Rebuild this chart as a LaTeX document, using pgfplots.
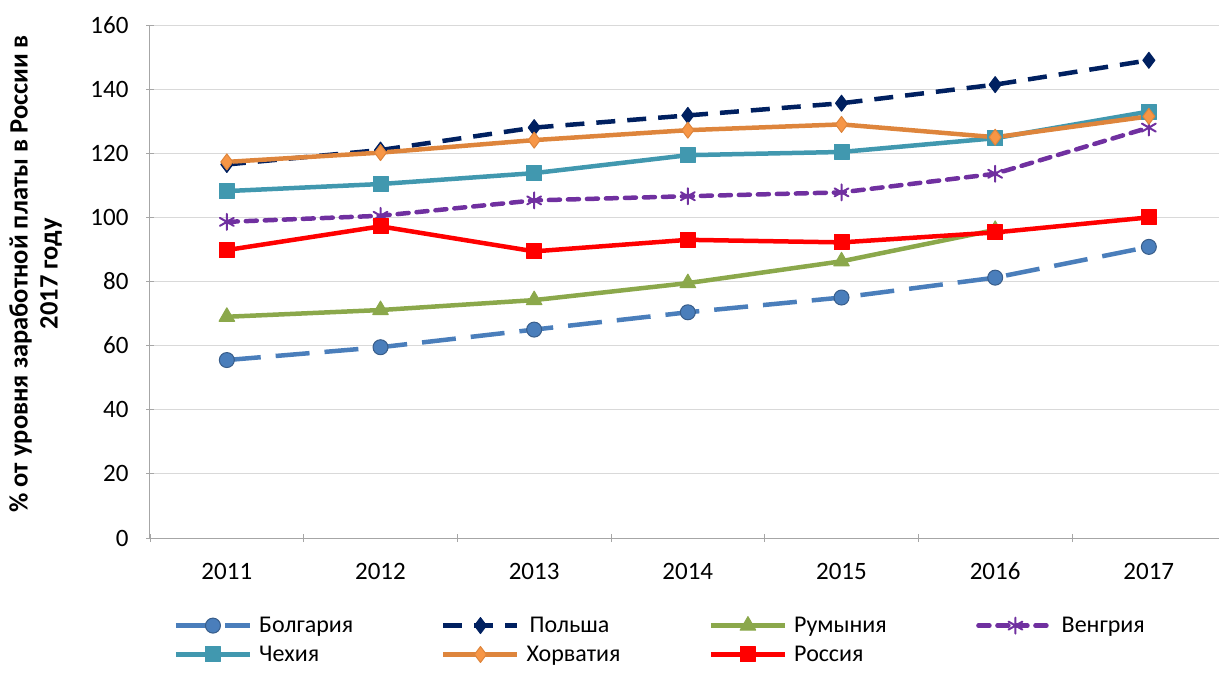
\documentclass[border=0pt]{standalone}
\usepackage{fontspec}
\setmainfont{Carlito}
\usepackage{pgfplots}
\pgfplotsset{compat=1.18}
\definecolor{cBul}{RGB}{74,126,187}
\definecolor{cBulD}{RGB}{56,93,138}
\definecolor{cPol}{RGB}{0,32,96}
\definecolor{cRom}{RGB}{139,168,75}
\definecolor{cHun}{RGB}{112,48,160}
\definecolor{cCze}{RGB}{65,152,175}
\definecolor{cCro}{RGB}{222,133,60}
\definecolor{cCroF}{RGB}{247,150,70}
\definecolor{cRus}{RGB}{255,0,0}
\begin{document}
\begin{tikzpicture}
\useasboundingbox (-150pt,-135pt) rectangle (1069pt,538pt);
\begin{axis}[
  scale only axis,
  width=1069pt, height=513pt,
  xmin=2010.5, xmax=2017.456,
  ymin=0, ymax=160,
  ytick={0,20,...,160},
  xtick={2011,...,2017},
  minor xtick={2010.5,2011.5,...,2017.5},
  major x tick style={draw=none},
  minor tick length=8pt,
  major tick length=8pt,
  tick align=outside,
  tick style={gray!70, line width=0.8pt},
  axis x line=bottom, axis y line=left,
  axis line style={gray!70, line width=1pt, -},
  ymajorgrids, grid style={gray!30, line width=1pt},
  /pgf/number format/assume math mode=true,
  /pgf/number format/1000 sep={},
  tick label style={font=\fontsize{25}{30}\selectfont},
  yticklabel style={xshift=-14pt},
  xticklabel style={anchor=base, yshift=-37pt},
  ylabel={\bfseries\begin{tabular}{c}\% от уровня заработной платы в России в\\2017 году\end{tabular}},
  ylabel style={font=\fontsize{26.5}{30}\selectfont, at={(axis description cs:-0.1060,0.515)}, anchor=center},
  legend columns=4,
  legend style={at={(axis description cs:0.022,-0.150)}, anchor=north west, draw=none, fill=none,
    inner sep=0pt, row sep=8pt, font=\fontsize{24}{28}\selectfont,
    /tikz/every odd column/.append style={column sep=5pt}},
  legend cell align=left,
  legend image code/.code={\draw[mark repeat=2,mark phase=2] plot coordinates {(0pt,0pt)(37pt,0pt)(74pt,0pt)};},
  every axis plot/.append style={line width=4.5pt, line join=round},
]
\addplot[cBul, dash pattern=on 34pt off 15pt, mark=*, mark size=7.5pt, mark options={solid, fill=cBul, draw=cBulD, line width=1pt}]
 coordinates {(2011,55.5)(2012,59.5)(2013,65.0)(2014,70.4)(2015,75.0)(2016,81.2)(2017,90.8)};
\addlegendentry{\makebox[180pt][l]{Болгария}}
\addplot[cPol, dash pattern=on 19pt off 12pt, mark=diamond*, mark size=8pt, mark options={solid, fill=cPol, line width=1pt}]
 coordinates {(2011,116.5)(2012,121.0)(2013,128.0)(2014,131.8)(2015,135.6)(2016,141.4)(2017,149.0)};
\addlegendentry{\makebox[180pt][l]{\hspace{3pt}Польша}}
\addplot[cRom, mark=triangle*, mark size=9pt, mark options={solid, fill=cRom, line width=1pt}]
 coordinates {(2011,69.0)(2012,71.1)(2013,74.2)(2014,79.5)(2015,86.3)(2016,96.1)};
\addlegendentry{\makebox[180pt][l]{Румыния}}
\addplot[cHun, dash pattern=on 11pt off 8pt, line cap=round, mark=asterisk, mark size=8pt, mark options={solid, line width=2pt}]
 coordinates {(2011,98.6)(2012,100.5)(2013,105.3)(2014,106.6)(2015,107.8)(2016,113.6)(2017,128.0)};
\addlegendentry{\makebox[120pt][l]{Венгрия}}
\addplot[cCze, mark=square*, mark size=7.5pt, mark options={solid, fill=cCze, line width=1pt}]
 coordinates {(2011,108.2)(2012,110.4)(2013,113.8)(2014,119.4)(2015,120.4)(2016,124.7)(2017,133.0)};
\addlegendentry{\makebox[180pt][l]{Чехия}}
\addplot[cCro, mark=diamond*, mark size=8pt, mark options={solid, fill=cCroF, draw=cCro, line width=1pt}]
 coordinates {(2011,117.3)(2012,120.2)(2013,124.1)(2014,127.2)(2015,129.0)(2016,125.0)(2017,131.5)};
\addlegendentry{\makebox[180pt][l]{Хорватия}}
\addplot[cRus, mark=square*, mark size=7.5pt, mark options={solid, fill=cRus, line width=1pt}]
 coordinates {(2011,89.8)(2012,97.2)(2013,89.4)(2014,93.0)(2015,92.2)(2016,95.3)(2017,100.0)};
\addlegendentry{\makebox[180pt][l]{Россия}}
\end{axis}
\end{tikzpicture}
\end{document}
